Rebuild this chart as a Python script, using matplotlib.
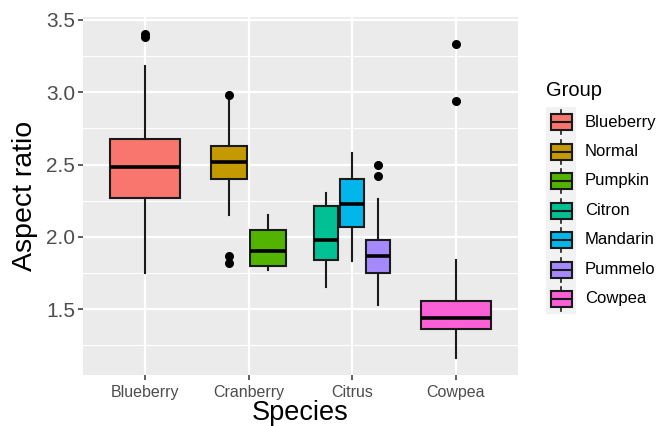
import numpy as np
import matplotlib.pyplot as plt
from matplotlib.patches import Rectangle

plt.rcParams['font.family'] = ['Liberation Sans', 'DejaVu Sans']

# species on the x axis and groups (fill) within them
species = ['Blueberry', 'Cranberry', 'Citrus', 'Cowpea']
groups = ['Blueberry', 'Normal', 'Pumpkin', 'Citron', 'Mandarin', 'Pummelo', 'Cowpea']
group_species = ['Blueberry', 'Cranberry', 'Cranberry', 'Citrus', 'Citrus', 'Citrus', 'Cowpea']
colors = ['#F8766D', '#C49A00', '#53B400', '#00C094', '#00B6EB', '#A58AFF', '#FB61D7']

# box statistics
whislo = [1.75, 2.15, 1.77, 1.65, 1.83, 1.53, 1.16]
q1 = [2.27, 2.40, 1.80, 1.84, 2.07, 1.75, 1.36]
med = [2.48, 2.52, 1.90, 1.98, 2.23, 1.87, 1.44]
q3 = [2.68, 2.63, 2.05, 2.21, 2.40, 1.98, 1.56]
whishi = [3.18, 2.96, 2.15, 2.30, 2.58, 2.26, 1.84]
fliers = [[3.40, 3.38], [2.98, 1.87, 1.82], [], [], [], [2.50, 2.42], [3.33, 2.94]]

fig = plt.figure(figsize=(6.59, 4.26), dpi=100)
ax = fig.add_axes([83/659, 1-375/426, 435/659, 358/426])
ax.set_facecolor('#EBEBEB')
for s in ax.spines.values():
    s.set_visible(False)

# dodge positions like ggplot
dodge = 0.75
positions, widths = [], []
for i, g in enumerate(groups):
    sp = group_species[i]
    members = [k for k, s in enumerate(group_species) if s == sp]
    n = len(members)
    j = members.index(i)
    slot = dodge / n
    x0 = species.index(sp) + 1
    positions.append(x0 - dodge/2 + slot*(j + 0.5))
    widths.append(slot * (0.93 if n > 1 else 0.9))

stats = []
for i in range(len(groups)):
    stats.append(dict(whislo=whislo[i], q1=q1[i], med=med[i], q3=q3[i],
                      whishi=whishi[i], fliers=fliers[i]))

bp = ax.bxp(stats, positions=positions, widths=widths, patch_artist=True,
            showcaps=False, manage_ticks=False,
            boxprops=dict(edgecolor='#1a1a1a', linewidth=1.5),
            medianprops=dict(color='black', linewidth=2.6),
            whiskerprops=dict(color='#1a1a1a', linewidth=1.5),
            flierprops=dict(marker='o', markerfacecolor='black',
                            markeredgecolor='black', markersize=5.5))
for patch, c in zip(bp['boxes'], colors):
    patch.set_facecolor(c)
for b in bp['boxes'] + bp['whiskers'] + bp['medians'] + bp['fliers']:
    b.set_zorder(3)

ax.set_xlim(0.4, 4.6)
ax.set_ylim(1.045, 3.52)
ax.set_xticks(range(1, 5))
ax.set_xticklabels(species)
ax.set_yticks([1.5, 2.0, 2.5, 3.0, 3.5])
ax.set_yticks([1.25, 1.75, 2.25, 2.75, 3.25], minor=True)
ax.grid(which='major', color='white', linewidth=1.6, zorder=0)
ax.grid(which='minor', axis='y', color='white', linewidth=0.8, zorder=0)
ax.set_axisbelow(True)
ax.tick_params(axis='y', which='major', labelsize=15, labelcolor='#4D4D4D',
               color='#333333', length=3.5, width=1.1, pad=2)
ax.tick_params(axis='x', which='major', labelsize=11.5, labelcolor='#4D4D4D',
               color='#333333', length=3.5, width=1.1, pad=4)
ax.tick_params(which='minor', length=0)
ax.set_xlabel('Species', fontsize=19.5, labelpad=0)
ax.set_ylabel('Aspect ratio', fontsize=20.5, labelpad=6)

# legend drawn in pixel coordinates
lax = fig.add_axes([0, 0, 1, 1], zorder=5)
lax.set_xlim(0, 659)
lax.set_ylim(426, 0)
lax.axis('off')
lax.text(546, 91, 'Group', fontsize=14.5, va='center', ha='left')
row0, step = 122, 29.5
lax.add_patch(Rectangle((546, row0 - 15), 29.5, step*len(groups) + 0.5, facecolor='#F2F2F2',
                        edgecolor='none'))
for i, g in enumerate(groups):
    yc = row0 + i*step
    lax.plot([561, 561], [yc - 12, yc + 12], color='#1a1a1a', lw=1.2)
    lax.add_patch(Rectangle((550.5, yc - 8), 21.5, 16, facecolor=colors[i],
                            edgecolor='#1a1a1a', lw=1.5, zorder=3))
    lax.plot([550.5, 572], [yc, yc], color='#1a1a1a', lw=1.5, zorder=4)
    lax.text(585, yc, g, fontsize=12, va='center', ha='left')

fig.savefig('out.png', dpi=100)
